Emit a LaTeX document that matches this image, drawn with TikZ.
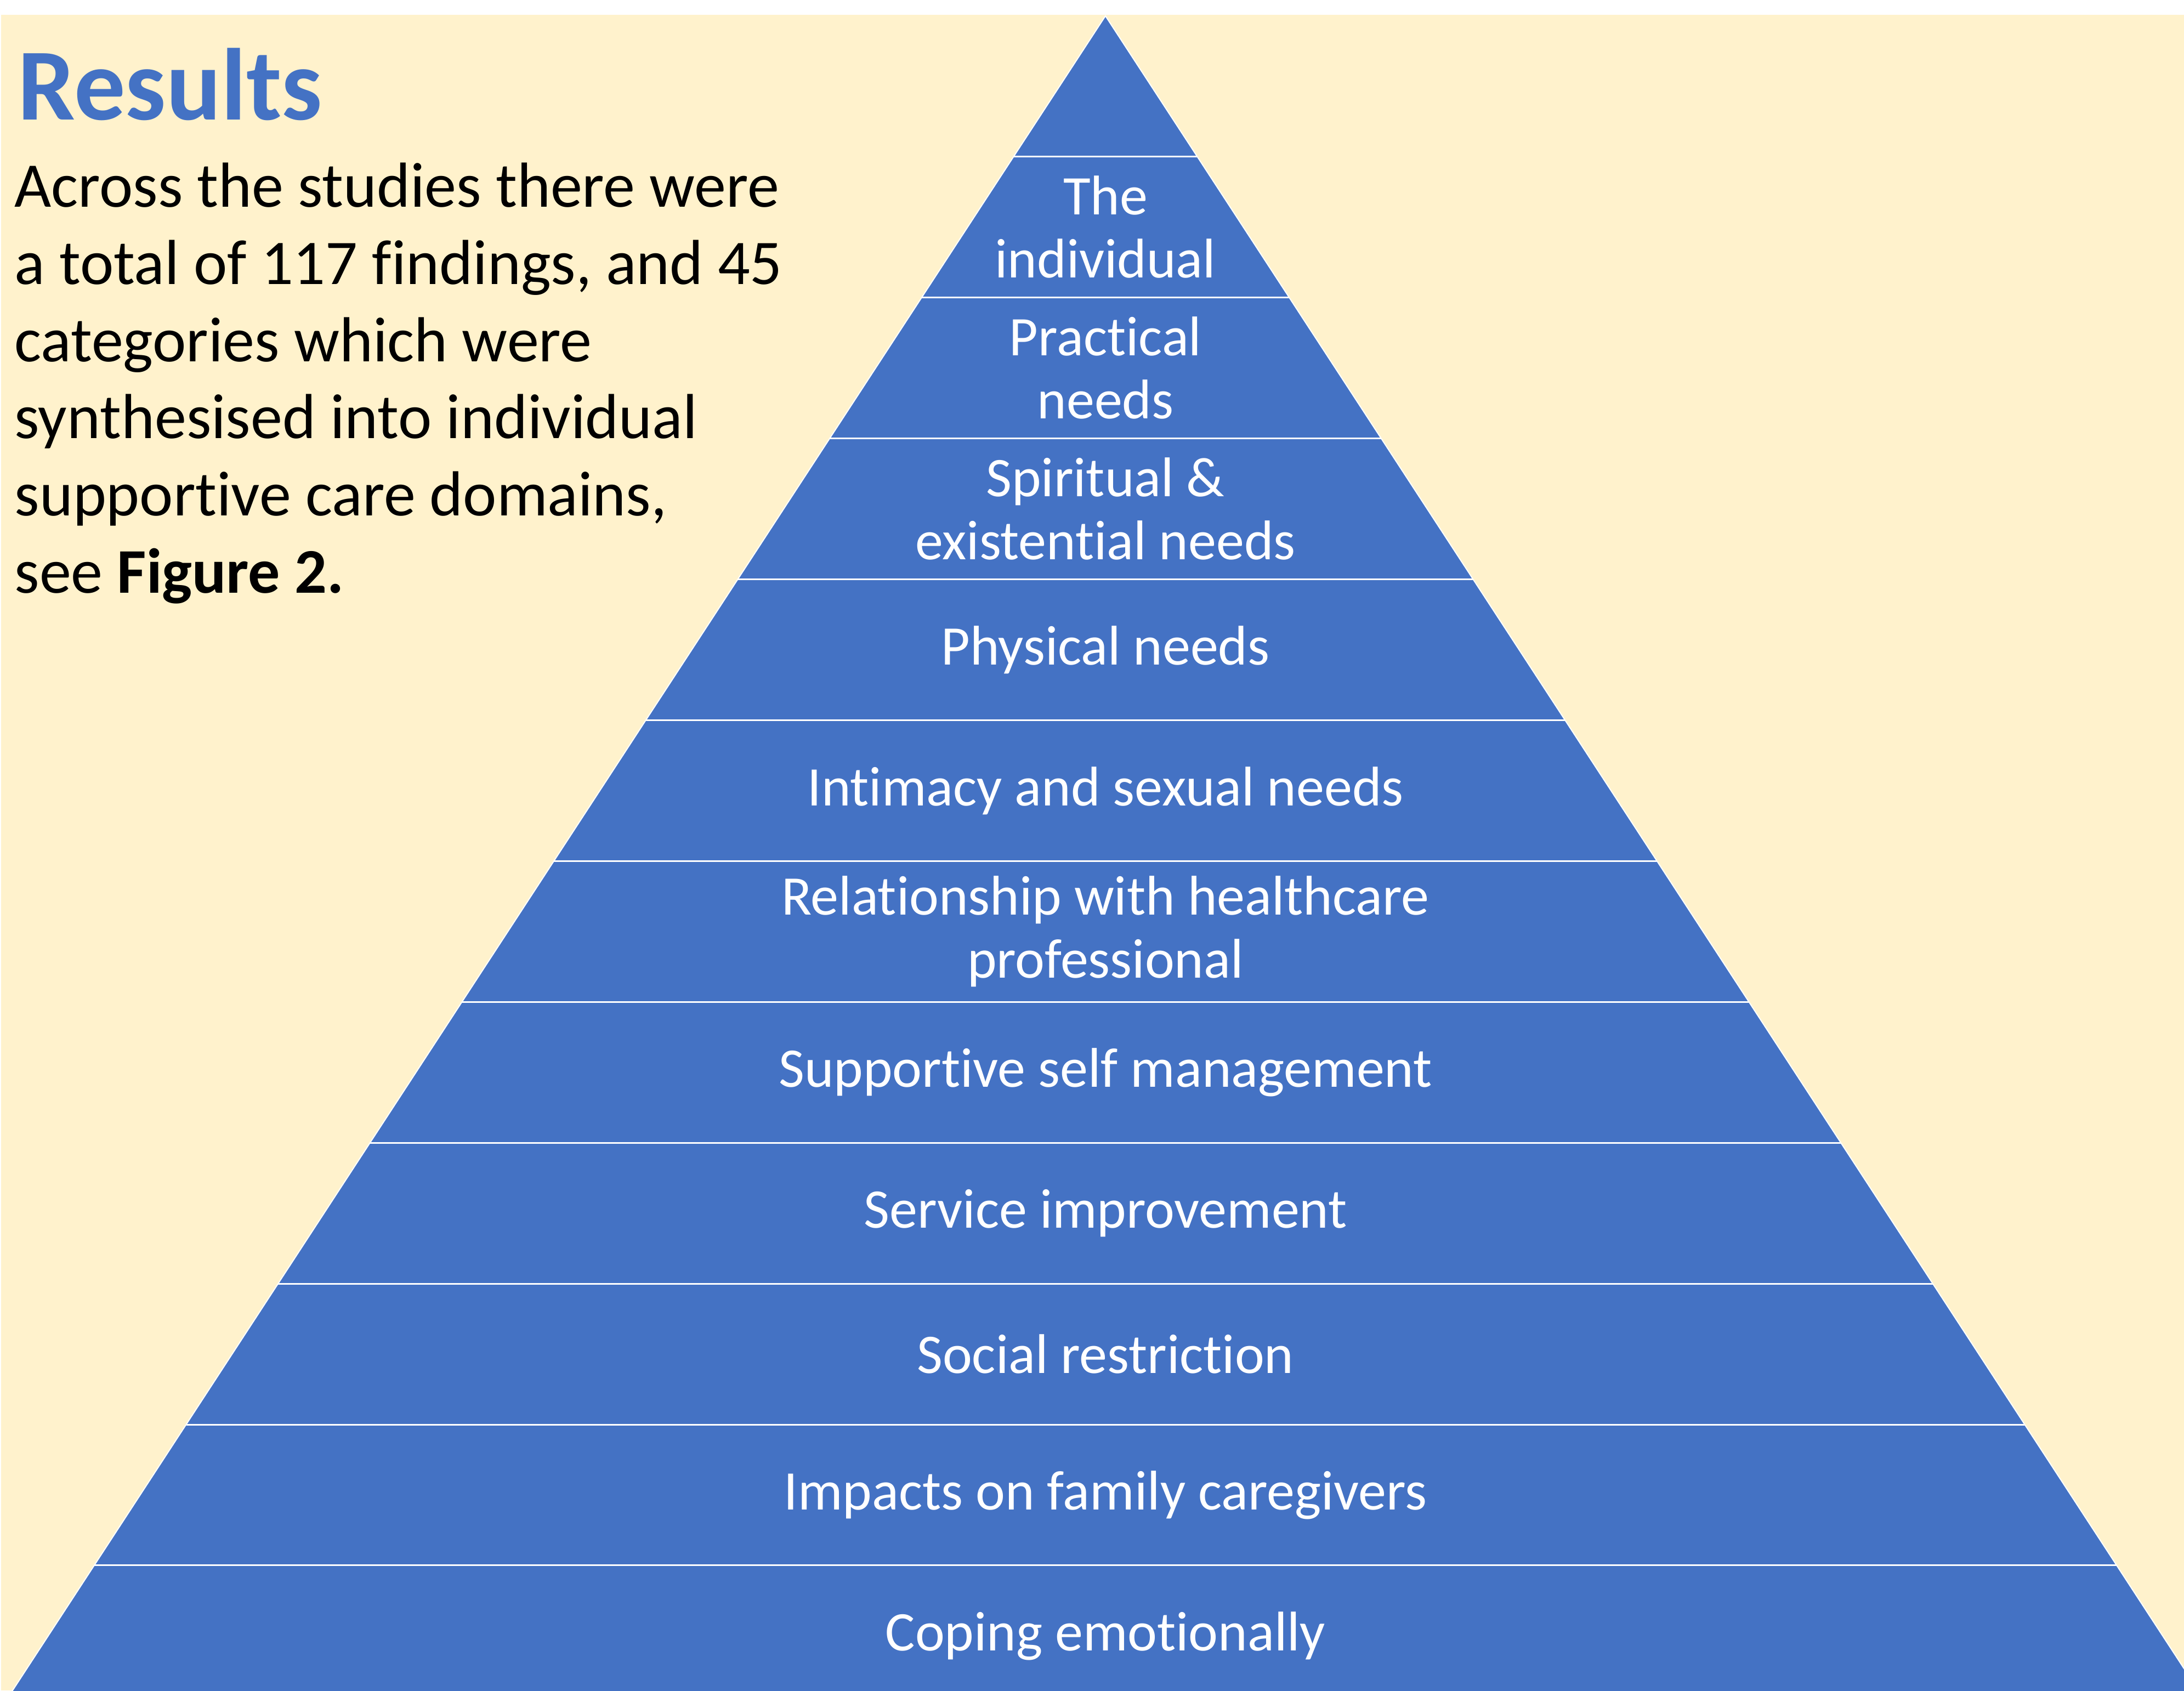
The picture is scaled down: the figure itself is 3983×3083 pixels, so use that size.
\documentclass[tikz,border=0pt]{standalone}
\usepackage{fontspec}
\setmainfont{Carlito}[Ligatures=NoCommon]
\usepackage{tikz}
\definecolor{domainblue}{HTML}{4472C4}
\definecolor{panelcream}{HTML}{FFF2CC}
\tikzstyle{heading} = [anchor=base west, inner sep=0pt, text=domainblue, font=\fontsize{53}{60}\selectfont\bfseries]
\tikzstyle{summary} = [anchor=base west, inner sep=0pt, align=left, font=\fontsize{33}{40}\selectfont]
\tikzstyle{domainlabel} = [inner sep=0pt, align=center, text=white, font=\fontsize{29}{32.7}\selectfont]
\tikzstyle{divider} = [draw=white, line width=0.03cm]

\begin{document}
\begin{tikzpicture}[x=0.01cm, y=-0.01cm]

\useasboundingbox (0,0) rectangle (3983,3083);
\fill[white] (0,0) rectangle (3983,3083);
\fill[panelcream] (2,27) rectangle (3983,3083);

\begin{scope}
\clip (0,0) rectangle (3983,3083);
\coordinate (apex) at (2016,29);
\coordinate (baseL) at (4,3112);
\coordinate (baseR) at (4028,3112);
\filldraw[fill=domainblue, draw=white, line width=0.02cm] (apex) -- (baseL) -- (baseR) -- cycle;
\foreach \k in {1,...,11}
  \draw[divider] ({2016-167.65*\k},{29+256.9*\k}) -- ({2016+167.65*\k},{29+256.9*\k});
\end{scope}

\foreach \k/\txt in {1/{The\\individual}, 2/{Practical\\needs}, 3/{Spiritual \&\\existential needs},
    4/{Physical needs}, 5/{Intimacy and sexual needs}, 6/{Relationship with healthcare\\professional},
    7/{Supportive self management}, 8/{Service improvement}, 9/{Social restriction},
    10/{Impacts on family caregivers}, 11/{Coping emotionally}}
  \node[domainlabel] (level\k) at (2016,{29+256.9*(\k+0.5)}) {\txt};

\node[heading] (results) at (32,218) {Results};
\node[summary] (summary) at (26,1081) {Across the studies there were\\a total of 117 findings, and 45\\categories which were\\synthesised into individual\\supportive care domains,\\see \textbf{Figure 2.}};

\end{tikzpicture}
\end{document}
